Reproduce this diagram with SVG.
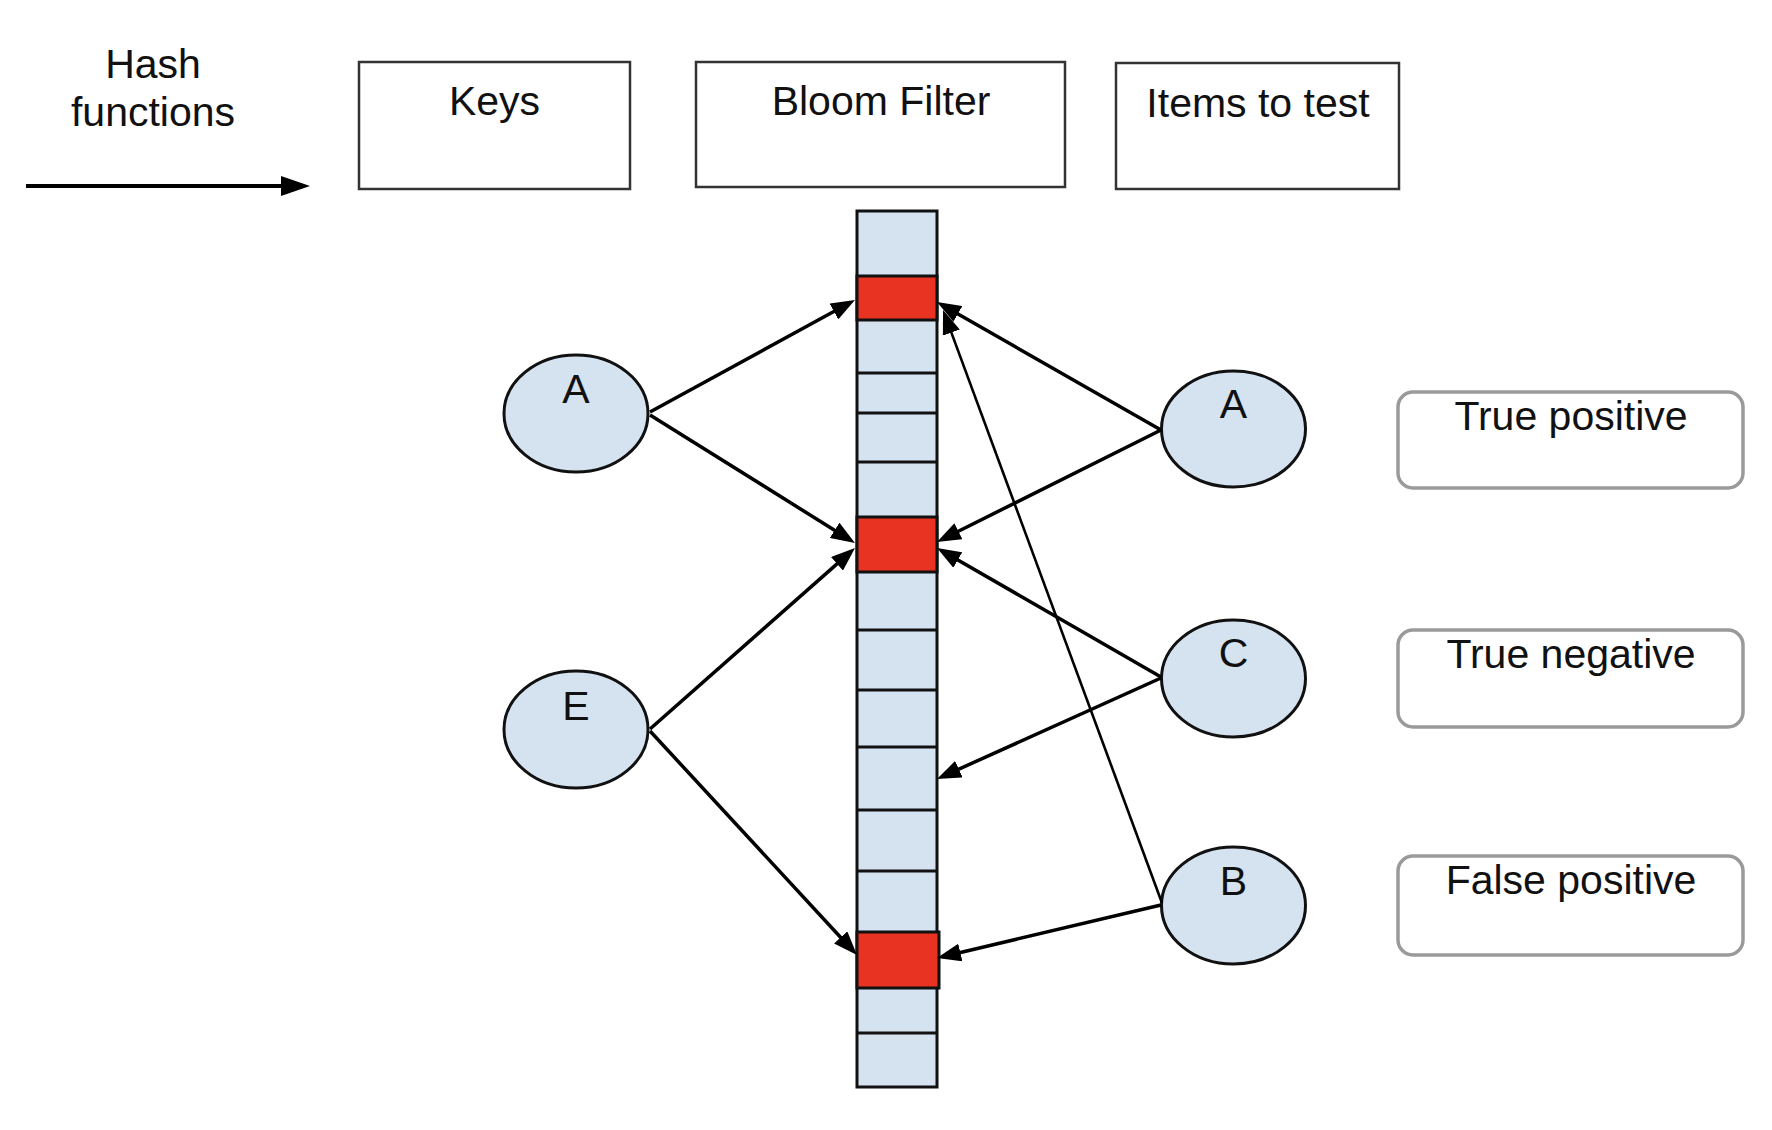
<svg xmlns="http://www.w3.org/2000/svg" width="1772" height="1130" viewBox="0 0 1772 1130">
<defs>
<style>
text{font-family:"Liberation Sans",Arial,sans-serif;font-size:41px;fill:#111;text-anchor:middle}
.box{fill:#fff;stroke:#333;stroke-width:2.5}
.res{fill:#fff;stroke:#9a9a9a;stroke-width:3.5}
.el{fill:#d5e3f1;stroke:#111;stroke-width:3}
.cell{fill:#d5e3f1;stroke:#111;stroke-width:3}
.hit{fill:#e83222;stroke:#111;stroke-width:3}
.div{stroke:#111;stroke-width:3}
.c{fill:none;stroke:#000;stroke-width:3.5;marker-end:url(#ah)}
.thin{fill:none;stroke:#000;stroke-width:2.6;marker-end:url(#ah)}
</style>
<marker id="ah" viewBox="0 0 24 18" refX="14" refY="9" markerWidth="24" markerHeight="18" markerUnits="userSpaceOnUse" orient="auto">
<path d="M0,0 L24,9 L0,18 Z" fill="#000"/>
</marker>
</defs>
<rect width="1772" height="1130" fill="#fff"/>

<g id="hash-label">
<text x="153" y="78">Hash</text>
<text x="153" y="126">functions</text>
</g>
<g id="keys-header"><rect class="box" x="359" y="62" width="271" height="127"/><text x="494.5" y="115">Keys</text></g>
<g id="bloom-header"><rect class="box" x="696" y="62" width="369" height="125"/><text x="881" y="115">Bloom Filter</text></g>
<g id="items-header"><rect class="box" x="1116" y="63" width="283" height="126"/><text x="1258" y="117">Items to test</text></g>

<g id="bloom-filter">
<rect class="cell" x="857" y="211" width="80" height="876"/>
<line class="div" x1="857" y1="373" x2="937" y2="373"/>
<line class="div" x1="857" y1="413" x2="937" y2="413"/>
<line class="div" x1="857" y1="462" x2="937" y2="462"/>
<line class="div" x1="857" y1="630" x2="937" y2="630"/>
<line class="div" x1="857" y1="690" x2="937" y2="690"/>
<line class="div" x1="857" y1="747" x2="937" y2="747"/>
<line class="div" x1="857" y1="810" x2="937" y2="810"/>
<line class="div" x1="857" y1="871" x2="937" y2="871"/>
<line class="div" x1="857" y1="1033" x2="937" y2="1033"/>
<rect class="hit" x="857" y="276" width="80" height="44"/>
<rect class="hit" x="857" y="517" width="80" height="55"/>
<rect class="hit" x="857" y="932" width="82" height="56"/>
</g>

<g id="key-A"><ellipse class="el" cx="576" cy="413.5" rx="72" ry="58.5"/><text x="576" y="403">A</text></g>
<g id="key-E"><ellipse class="el" cx="576" cy="729.5" rx="72" ry="58.5"/><text x="576" y="720">E</text></g>
<g id="test-A"><ellipse class="el" cx="1233.5" cy="429" rx="72" ry="58"/><text x="1233.5" y="418">A</text></g>
<g id="test-C"><ellipse class="el" cx="1233.5" cy="678.5" rx="72" ry="58.5"/><text x="1233.5" y="667">C</text></g>
<g id="test-B"><ellipse class="el" cx="1233.5" cy="905.5" rx="72" ry="58.5"/><text x="1233.5" y="895">B</text></g>

<g id="true-positive"><rect class="res" x="1398" y="392" width="345" height="96" rx="15"/><text x="1571" y="430">True positive</text></g>
<g id="true-negative"><rect class="res" x="1398" y="630" width="345" height="97" rx="15"/><text x="1571" y="668">True negative</text></g>
<g id="false-positive"><rect class="res" x="1398" y="856" width="345" height="99" rx="15"/><text x="1571" y="894">False positive</text></g>

<g id="connectors">
<line x1="26" y1="186" x2="286" y2="186" stroke="#000" stroke-width="4"/>
<path d="M281,176 L310,186 L281,196 Z" fill="#000"/>
<path class="c" d="M650,412 L846.2,304.8"/>
<path class="c" d="M650,415 L846.5,537.7"/>
<path class="c" d="M650,729 L847.5,554.6"/>
<path class="c" d="M650,731 L850.2,947.7"/>
<path class="c" d="M1161,430 L945.7,307"/>
<path class="c" d="M1161,430 L945.9,537.5"/>
<path class="c" d="M1161,677 L945.7,553"/>
<path class="c" d="M1161,678 L946.1,774.9"/>
<path class="c" d="M1161,905 L946.7,955.7"/>
<path class="thin" d="M1162,903 L946.5,319.4"/>
</g>
</svg>
